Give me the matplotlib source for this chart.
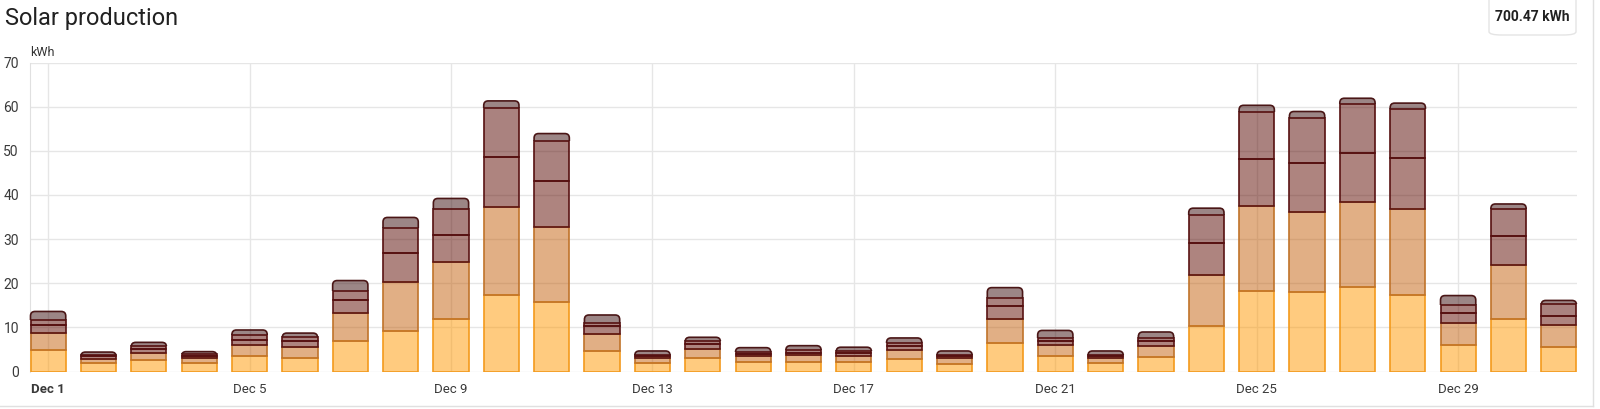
import numpy as np
import matplotlib
matplotlib.use('Agg')
import matplotlib.pyplot as plt
from matplotlib.patches import FancyBboxPatch, Rectangle
from matplotlib.lines import Line2D

plt.rcParams['font.family'] = ['Roboto', 'DejaVu Sans']

# cumulative stack tops (kWh), one list per boundary
days = list(range(1, 32))
top1 = [4.8, 1.85, 2.5, 1.85, 3.45, 3.15, 7.0, 9.2, 11.8, 17.3, 15.7, 4.6, 1.85, 3.0, 2.1, 2.2,
        2.2, 2.85, 1.8, 6.4, 3.4, 2.0, 3.3, 10.2, 18.2, 18.0, 19.1, 17.3, 5.9, 11.8, 5.6]
top2 = [8.7, 2.9, 4.3, 3.0, 6.1, 5.6, 13.3, 20.3, 24.8, 37.3, 32.8, 8.4, 3.0, 5.0, 3.5, 3.8,
        3.6, 4.95, 3.0, 12.0, 6.0, 3.0, 5.85, 21.9, 37.5, 36.2, 38.4, 36.9, 10.9, 24.2, 10.5]
top3 = [10.5, 3.4, 5.1, 3.5, 7.1, 6.8, 16.1, 26.8, 30.9, 48.5, 43.2, 10.2, 3.45, 6.15, 4.0, 4.3,
        4.1, 5.8, 3.45, 14.8, 7.0, 3.45, 6.9, 29.2, 48.2, 47.2, 49.4, 48.3, 13.3, 30.7, 12.6]
top4 = [11.7, 3.8, 5.85, 4.0, 8.2, 7.75, 18.2, 32.6, 36.7, 59.8, 52.2, 11.1, 3.85, 6.8, 4.5, 4.9,
        4.65, 6.4, 3.85, 16.7, 7.7, 3.8, 7.6, 35.5, 58.8, 57.4, 60.5, 59.4, 15.1, 36.9, 15.2]
top5 = [13.6, 4.4, 6.6, 4.5, 9.4, 8.7, 20.6, 34.9, 39.2, 61.3, 53.9, 12.8, 4.65, 7.75, 5.4, 5.85,
        5.5, 7.6, 4.65, 19.0, 9.3, 4.65, 8.95, 37.0, 60.3, 58.9, 61.9, 60.8, 17.2, 37.95, 16.1]
tick_days = [1, 5, 9, 13, 17, 21, 25, 29]
tick_labels = ['Dec 1', 'Dec 5', 'Dec 9', 'Dec 13', 'Dec 17', 'Dec 21', 'Dec 25', 'Dec 29']
total_label = '700.47 kWh'

tops = [top1, top2, top3, top4, top5]
colors = ['#ff9800', '#c4600c', '#5e0a00', '#560600', '#3a0e0e']
edges = ['#f39a1c', '#c0732a', '#5a1414', '#561010', '#4a1616']

fig = plt.figure(figsize=(16, 4.09), dpi=100)
ax = fig.add_axes([30 / 1600, (409 - 371.5) / 409, (1577 - 30) / 1600, 309 / 409])
ax.set_xlim(0.64, 31.36)
ax.set_ylim(0, 70)

# pixel aspect so the rounded caps come out circular
px_x = (1577 - 30) / (31.36 - 0.64)
px_y = 309 / 70
aspect = px_x / px_y
r = 4.5 / px_x

prev = np.zeros(len(days))
for i, t in enumerate(tops):
    t = np.array(t)
    fills = ax.bar(days, t - prev, bottom=prev, width=0.7, color=colors[i], alpha=0.5,
                   edgecolor='none', zorder=2)
    if i < len(tops) - 1:
        ax.bar(days, t - prev, bottom=prev, width=0.7, facecolor='none',
               edgecolor=edges[i], linewidth=1.2, zorder=3)
    else:
        for rect, lo in zip(fills, prev):
            x0, w, h = rect.get_x(), rect.get_width(), rect.get_y() + rect.get_height()
            cap = FancyBboxPatch((x0, -10), w, h + 10,
                                 boxstyle='round,pad=0,rounding_size=%f' % r,
                                 mutation_aspect=aspect, facecolor='none',
                                 edgecolor=edges[i], linewidth=1.2, zorder=3)
            ax.add_patch(cap)
            clip = Rectangle((x0 - 0.2, lo), w + 0.4, h - lo + 2, transform=ax.transData)
            cap.set_clip_path(clip)
            rect.set_clip_path(FancyBboxPatch((x0, -10), w, h + 10,
                                              boxstyle='round,pad=0,rounding_size=%f' % r,
                                              mutation_aspect=aspect,
                                              transform=ax.transData))
    prev = t

ax.set_yticks(range(0, 71, 10))
ax.set_xticks(tick_days)
ax.set_xticklabels(tick_labels)
ax.get_xticklabels()[0].set_fontweight('bold')
ax.grid(True, color='#e6e6e6', linewidth=1, zorder=0)
ax.set_axisbelow(True)
for s in ['top', 'right', 'bottom']:
    ax.spines[s].set_visible(False)
ax.spines['left'].set_color('#e0e0e0')
ax.tick_params(axis='x', length=0, labelsize=9.5, colors='#3a3a3a', pad=8)
ax.tick_params(axis='y', length=0, labelsize=10, colors='#3a3a3a', pad=8)
ax.text(0.0, 1.01, 'kWh', transform=ax.transAxes, fontsize=9, color='#333333',
        ha='left', va='bottom')

fig.text(5 / 1600, 1 - 18 / 409, 'Solar production', fontsize=17, color='#212121',
         ha='left', va='center')

badge = FancyBboxPatch((1489 / 1600, 1 - 35 / 409), 87 / 1600, 40 / 409,
                       boxstyle='round,pad=0,rounding_size=0.008',
                       transform=fig.transFigure, facecolor='white',
                       edgecolor='#e4e4e4', linewidth=1)
fig.patches.append(badge)
fig.text(1532 / 1600, 1 - 17 / 409, total_label, fontsize=10, fontweight='bold',
         color='#212121', ha='center', va='center')

# card edges
fig.add_artist(Line2D([1593 / 1600, 1593 / 1600], [1, 3 / 409], transform=fig.transFigure,
                      color='#e0e0e0', linewidth=1))
fig.add_artist(Line2D([0, 1593 / 1600], [3 / 409, 3 / 409], transform=fig.transFigure,
                      color='#e0e0e0', linewidth=1))

fig.savefig('out.png', dpi=100)
